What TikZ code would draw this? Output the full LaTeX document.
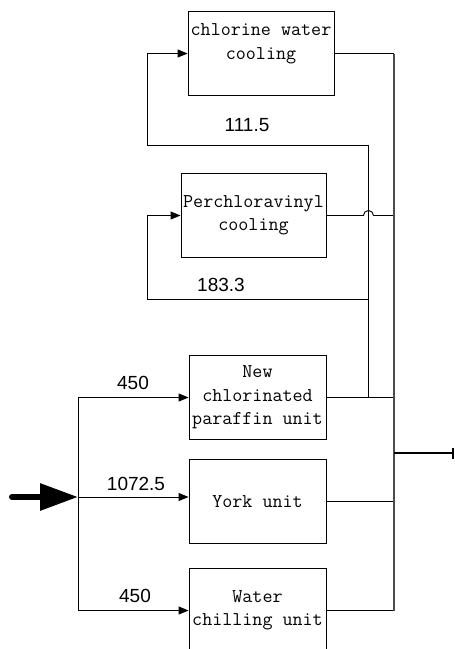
\documentclass[tikz,border=0pt]{standalone}
\usepackage{fontspec}
\newfontfamily\numfont{Liberation Sans}
\usetikzlibrary{arrows.meta,positioning}

\begin{document}
\begin{tikzpicture}[x=1pt,y=-1pt,
  unit/.style={draw,line width=0.9pt,inner sep=0pt,minimum height=84pt,align=center,
    font=\ttfamily\fontsize{19.5}{23.5}\selectfont},
  pipe/.style={line width=0.9pt},
  flow/.style={pipe,-{Triangle[length=10pt,width=8pt]}},
  num/.style={font=\numfont\fontsize{19}{19}\selectfont}]
\useasboundingbox (0,0) rectangle (455,649);
% units
\node[unit,minimum width=146pt] (cw) at (261,53.5) {chlorine water\\cooling\\~};
\node[unit,minimum width=145pt] (pc) at (253.5,215.5) {Perchloravinyl\\cooling};
\node[unit,minimum width=137pt] (ncp) at (257.5,397.5) {New\\chlorinated\\paraffin unit};
\node[unit,minimum width=137pt] (york) at (257.5,501.5) {York unit};
\node[unit,minimum width=137pt] (wcu) at (257.5,610.5) {Water\\chilling unit};
% junctions
\coordinate (src) at (12,497);
\coordinate (split) at (78,497);
\coordinate (tap) at (368,397.5);
\coordinate (retA) at (147,145.5);
\coordinate (retB) at (147,299.5);
\coordinate (colTop) at (394,53.5);
\coordinate (colBot) at (394,610.5);
\coordinate (colOut) at (394,453);
\coordinate (outlet) at (454,453);
% feed
\draw[line width=6pt,line cap=round,-{Triangle[length=38pt,width=26pt]}] (src) -- (split);
\draw[flow] (split) |- (ncp.west);
\draw[flow] (split) -- (york.west |- split);
\draw[flow] (split) |- (wcu.west);
\node[num] (q1) at (133,383) {450};
\node[num] (q2) at (136,484) {1072.5};
\node[num] (q3) at (135,596) {450};
% cooling loops
\draw[pipe] (ncp.east) -- (tap);
\draw[flow] (tap) |- (retA) |- (cw.west);
\draw[flow] (tap |- retB) -- (retB) |- (pc.west);
\node[num] (q4) at (247,125) {111.5};
\node[num] (q5) at (221,285) {183.3};
% return to collector
\draw[pipe] (cw.east) -- (colTop);
\draw[pipe] (pc.east) -- ++(37,0) arc[start angle=180,end angle=360,radius=5] -- (pc.east -| colTop);
\draw[pipe] (tap) -- (tap -| colTop);
\draw[pipe] (york.east) -- (york.east -| colTop);
\draw[pipe] (wcu.east) -- (colBot);
\draw[line width=1.6pt,black!70] (colTop) -- (colBot);
\draw[line width=1.6pt,-{Bar[width=11pt]}] (colOut) -- (outlet);
\end{tikzpicture}
\end{document}
